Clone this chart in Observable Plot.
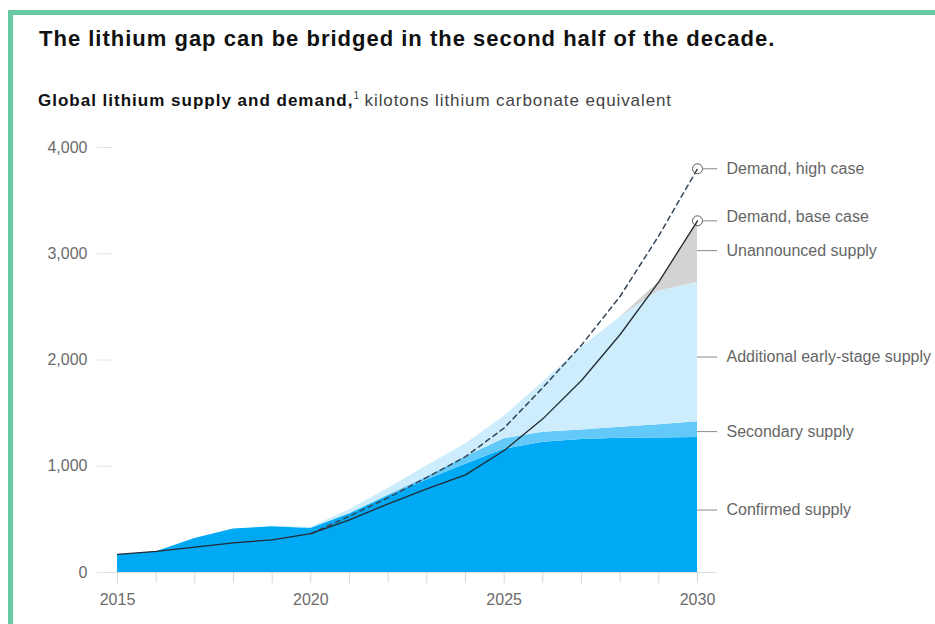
<!DOCTYPE html>
<html>
<head>
<meta charset="utf-8">
<script src="https://cdn.jsdelivr.net/npm/d3@7"></script>
<script src="https://cdn.jsdelivr.net/npm/@observablehq/plot@0.6"></script>
<style>
  body { margin: 0; background: #fff; font-family: "Liberation Sans", Arial, sans-serif; width: 935px; height: 624px; overflow: hidden; position: relative; }
  .frame { position: absolute; left: 8px; top: 10px; width: 940px; height: 700px; border-top: 5px solid #69c9a4; border-left: 5px solid #69c9a4; }
  .title { position: absolute; left: 39px; top: 28px; font-size: 22px; line-height: 22px; letter-spacing: 1px; font-weight: bold; color: #111; white-space: nowrap; }
  .subtitle { position: absolute; left: 38px; top: 92px; font-size: 17px; line-height: 17px; letter-spacing: 0.9px; color: #444; white-space: nowrap; }
  .subtitle b { color: #111; letter-spacing: 1px; }
  .subtitle sup { font-size: 10px; line-height: 0; letter-spacing: 0; }
  #chart { position: absolute; left: 0; top: 130px; }
</style>
</head>
<body>
<div class="frame"></div>
<div class="title">The lithium gap can be bridged in the second half of the decade.</div>
<div class="subtitle"><b>Global lithium supply and demand,</b><sup>1</sup> kilotons lithium carbonate equivalent</div>
<div id="chart"></div>
<script>
// Years on the horizontal axis
const years = [2015, 2016, 2017, 2018, 2019, 2020, 2021, 2022, 2023, 2024, 2025, 2026, 2027, 2028, 2029, 2030];

// Supply layers, kilotons LCE (stacked bottom to top)
const confirmedSupply   = [165, 195, 320, 410, 430, 415, 550, 720, 870, 1020, 1160, 1225, 1252, 1264, 1265, 1270];
const secondarySupply   = [0, 0, 0, 0, 0, 5, 5, 10, 30, 70, 98, 95, 90, 104, 125, 150];
const additionalSupply  = [0, 0, 0, 0, 0, 7, 35, 60, 105, 120, 212, 471, 779, 1035, 1260, 1310];
const unannouncedSupply = [0, 0, 0, 0, 0, 0, 0, 0, 0, 0, 0, 0, 0, 0, 85, 580];

// Demand scenarios, kilotons LCE
const demandBase = [170, 198, 238, 279, 308, 365, 496, 646, 787, 919, 1148, 1446, 1807, 2240, 2735, 3310];
const demandHigh = [null, null, null, null, null, 365, 530, 705, 895, 1090, 1360, 1740, 2140, 2600, 3170, 3800];

const layerNames = ["Confirmed supply", "Secondary supply", "Additional early-stage supply", "Unannounced supply"];
const layerValues = [confirmedSupply, secondarySupply, additionalSupply, unannouncedSupply];
const layerColors = ["#00a9f4", "#62c9f8", "#cdedfc", "#d3d3d3"];

const yTicks = [0, 1000, 2000, 3000, 4000];
const xLabelYears = [2015, 2020, 2025, 2030];

// Long table for the stacked areas
const supplyRows = years.flatMap((year, i) =>
  layerNames.map((layer, k) => ({year, layer, value: layerValues[k][i]}))
);
const baseRows = years.map((year, i) => ({year, value: demandBase[i]}));
const highRows = years.map((year, i) => ({year, value: demandHigh[i]})).filter(d => d.value != null);

// Right-hand labels: band midpoints at the last year, plus the two demand end points
const last = years.length - 1;
let cum = 0;
const bandLabels = layerNames.map((name, k) => {
  const lo = cum; cum += layerValues[k][last];
  return {name, value: (lo + cum) / 2};
});
const nudge = {"Confirmed supply": 5, "Secondary supply": 2, "Additional early-stage supply": 5, "Unannounced supply": -1};
const endYear = years[last];
const demandEnds = [
  {name: "Demand, high case", value: demandHigh[last]},
  {name: "Demand, base case", value: demandBase[last]}
];

const labelMarks = [
  ...bandLabels.flatMap(d => [
    Plot.ruleY([d], {y: "value", x1: endYear, x2: endYear + 0.52, stroke: "#8a8a8a", strokeWidth: 1, dy: nudge[d.name]}),
    Plot.text([d], {x: endYear, y: "value", text: "name", dx: 29, dy: nudge[d.name], textAnchor: "start", fill: "#666", fontSize: 16})
  ]),
  ...demandEnds.flatMap((d, i) => [
    Plot.ruleY([d], {y: "value", x1: endYear + 0.13, x2: endYear + 0.52, stroke: "#8a8a8a", strokeWidth: 1}),
    Plot.text([d], {x: endYear, y: "value", text: "name", dx: 29, dy: i === 1 ? -4 : 0, textAnchor: "start", fill: "#666", fontSize: 16})
  ])
];

const chart = Plot.plot({
  width: 935,
  height: 494,
  marginTop: 17,
  marginBottom: 52,
  marginLeft: 113,
  marginRight: 238,
  style: {fontFamily: "'Liberation Sans', Arial, sans-serif", fontSize: "15px", color: "#666", background: "transparent"},
  x: {domain: [2015, 2030], insetLeft: 4, label: null},
  y: {domain: [0, 4000], label: null},
  color: {domain: layerNames, range: layerColors},
  marks: [
    Plot.areaY(supplyRows, {x: "year", y: "value", z: "layer", fill: "layer"}),
    Plot.ruleY([0], {x1: 2014.5, x2: 2030.5, stroke: "#dddddd", strokeWidth: 1}),
    Plot.axisY({ticks: yTicks, tickFormat: d3.format(","), tickSize: 16, tickPadding: 10, stroke: "#e2e2e2", fill: "#6b6b6b", fontSize: 16, label: null}),
    Plot.axisX({ticks: years, tickFormat: d => xLabelYears.includes(d) ? String(d) : "", tickSize: 11, tickPadding: 10, stroke: "#d6d6d6", fill: "#6b6b6b", fontSize: 16, label: null}),
    Plot.line(highRows, {x: "year", y: "value", stroke: "#34475a", strokeWidth: 1.5, strokeDasharray: "5,4"}),
    Plot.line(baseRows, {x: "year", y: "value", stroke: "#222b33", strokeWidth: 1.3}),
    Plot.dot(demandEnds, {x: () => endYear, y: "value", r: 5, stroke: "#5a5a5a", strokeWidth: 1, fill: "none"}),
    ...labelMarks
  ]
});
document.getElementById("chart").appendChild(chart);
</script>
</body>
</html>
